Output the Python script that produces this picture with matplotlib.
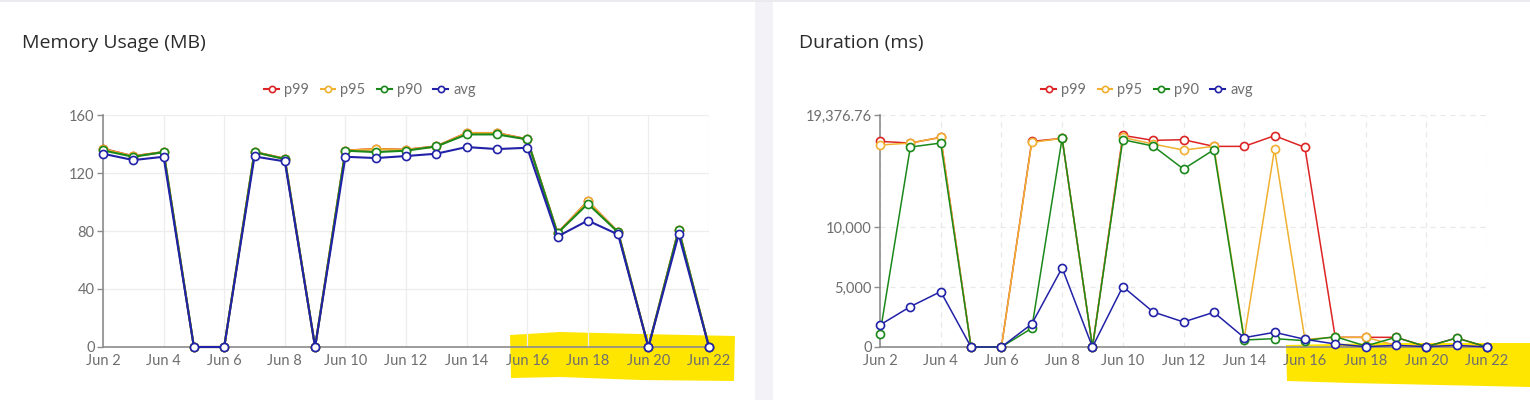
import matplotlib
matplotlib.use('Agg')
import matplotlib.pyplot as plt
import matplotlib.patches as mpatches
from matplotlib.lines import Line2D

# days of June on the x axis
days = [2, 3, 4, 5, 6, 7, 8, 9, 10, 11, 12, 13, 14, 15, 16, 17, 18, 19, 20, 21, 22]
tick_days = [2, 4, 6, 8, 10, 12, 14, 16, 18, 20, 22]
tick_labels = ['Jun 2', 'Jun 4', 'Jun 6', 'Jun 8', 'Jun 10', 'Jun 12',
               'Jun 14', 'Jun 16', 'Jun 18', 'Jun 20', 'Jun 22']
series_names = ['p99', 'p95', 'p90', 'avg']

# memory usage (MB)
mem_p99 = [136.8, 131.6, 134.5, 0, 0, 134.5, 129.9, 0, 135.5, 136.6, 136.1,
           138.4, 147.6, 147.6, 143.3, 78.6, 100.5, 79.3, 0, 81.0, 0]
mem_p95 = [136.5, 131.5, 134.4, 0, 0, 134.4, 129.8, 0, 135.4, 136.5, 136.0,
           138.3, 147.5, 147.5, 143.2, 78.5, 100.4, 79.2, 0, 80.8, 0]
mem_p90 = [135.6, 131.2, 134.4, 0, 0, 134.4, 129.6, 0, 135.4, 134.4, 135.4,
           138.3, 146.6, 146.6, 143.2, 78.5, 98.8, 79.2, 0, 80.8, 0]
mem_avg = [133.3, 128.9, 131.2, 0, 0, 131.4, 128.0, 0, 131.2, 130.3, 131.7,
           133.3, 137.9, 136.5, 137.4, 76.2, 87.2, 77.6, 0, 77.6, 0]
mem_yticks = [0, 40, 80, 120, 160]
mem_ylabels = ['0', '40', '80', '120', '160']

# duration (ms)
dur_p99 = [17174, 17035, 17509, 0, 0, 17174, 17425, 0, 17676, 17258, 17314,
           16756, 16756, 17648, 16672, 808, 808, 808, 28, 753, 0]
dur_p95 = [16867, 17035, 17509, 0, 0, 17090, 17425, 0, 17509, 16951, 16449,
           16756, 725, 16533, 641, 808, 808, 139, 28, 139, 0]
dur_p90 = [1115, 16700, 17035, 0, 0, 1561, 17425, 0, 17314, 16784, 14860,
           16477, 585, 697, 530, 864, 84, 808, 28, 753, 0]
dur_avg = [1840, 3373, 4628, 0, 0, 1924, 6608, 0, 5046, 2927, 2091,
           2899, 781, 1227, 641, 251, 28, 139, 28, 139, 0]
dur_yticks = [0, 5000, 10000, 19376.76]
dur_ylabels = ['0', '5,000', '10,000', '19,376.76']

colors = ['#dc2424', '#f0b030', '#1b881b', '#2222a8']
tick_font = 'Lato'
title_font = 'Open Sans'

W, H = 1530, 400
fig = plt.figure(figsize=(W / 100, H / 100), dpi=100)
fig.patch.set_facecolor('white')

# page chrome: gap between cards and a thin top border
fig.patches.append(mpatches.Rectangle((755 / W, 0), 18 / W, 1, transform=fig.transFigure,
                                      facecolor='#f3f2f6', edgecolor='none', zorder=0.1))
fig.patches.append(mpatches.Rectangle((0, 1 - 2 / H), 1, 2 / H, transform=fig.transFigure,
                                      facecolor='#ebebef', edgecolor='none', zorder=0.1))

# yellow highlighter marks (kept under the axes)
def highlight(pts):
    xy = [(px / W, 1 - py / H) for px, py in pts]
    fig.patches.append(mpatches.Polygon(xy, closed=True, transform=fig.transFigure,
                                        facecolor='#ffe600', edgecolor='none', zorder=0.2))

highlight([(510, 335), (560, 332), (640, 334), (735, 336), (734, 381), (640, 380), (560, 377), (511, 378)])
highlight([(1286, 345), (1380, 343), (1460, 343), (1530, 343), (1530, 387), (1440, 385), (1350, 383), (1287, 381)])


def draw_panel(ax, series, yticks, ylabels, lw, dashed):
    ax.set_zorder(1)
    for vals, c in zip(series, colors):
        ax.plot(days, vals, color=c, lw=lw, marker='o', ms=5.8, mfc='white',
                mec=c, mew=1.2, clip_on=False, zorder=3)
    ax.set_facecolor('none')
    ax.set_xlim(2, 22)
    ax.set_ylim(0, yticks[-1])
    ax.set_xticks(tick_days)
    ax.set_xticklabels(tick_labels, fontfamily=tick_font, fontsize=10.5, color='#6e6e6e')
    ax.set_yticks(yticks)
    ax.set_yticklabels(ylabels, fontfamily=tick_font, fontsize=10.5, color='#6e6e6e')
    ax.tick_params(axis='x', length=0, pad=5)
    ax.tick_params(axis='y', length=4, width=1, color='#8c8c8c', pad=2)
    for s in ['top', 'right']:
        ax.spines[s].set_visible(False)
    for s in ['left', 'bottom']:
        ax.spines[s].set_color('#8c8c8c')
        ax.spines[s].set_linewidth(1.2)
    if dashed:
        ax.grid(True, color='#e8e8e8', lw=0.9, ls=(0, (4, 4)))
    else:
        ax.grid(True, color='#ededed', lw=0.9)
    ax.set_axisbelow(True)


ax1 = fig.add_axes([103 / W, 53 / H, 606 / W, 232 / H])
draw_panel(ax1, [mem_p99, mem_p95, mem_p90, mem_avg], mem_yticks, mem_ylabels, 1.5, False)
ax2 = fig.add_axes([880 / W, 53 / H, 607 / W, 232 / H])
draw_panel(ax2, [dur_p99, dur_p95, dur_p90, dur_avg], dur_yticks, dur_ylabels, 1.1, True)

fig.text(22 / W, 1 - 43 / H, 'Memory Usage (MB)', fontfamily=title_font, fontsize=14,
         color='#2b2b2b', va='center', ha='left')
fig.text(799 / W, 1 - 43 / H, 'Duration (ms)', fontfamily=title_font, fontsize=14,
         color='#2b2b2b', va='center', ha='left')

handles = [Line2D([], [], color=c, lw=1.5, marker='o', ms=4.5, mfc='white', mec=c, mew=1.2)
           for c in colors]
for cx in [370 / W, 1147 / W]:
    fig.legend(handles, series_names, loc='center', bbox_to_anchor=(cx, 1 - 90 / H),
               ncol=4, frameon=False, handlelength=1.0, handletextpad=0.35,
               columnspacing=0.8, prop={'family': tick_font, 'size': 10.5},
               labelcolor='#707070')

fig.savefig('out.png', dpi=100)
